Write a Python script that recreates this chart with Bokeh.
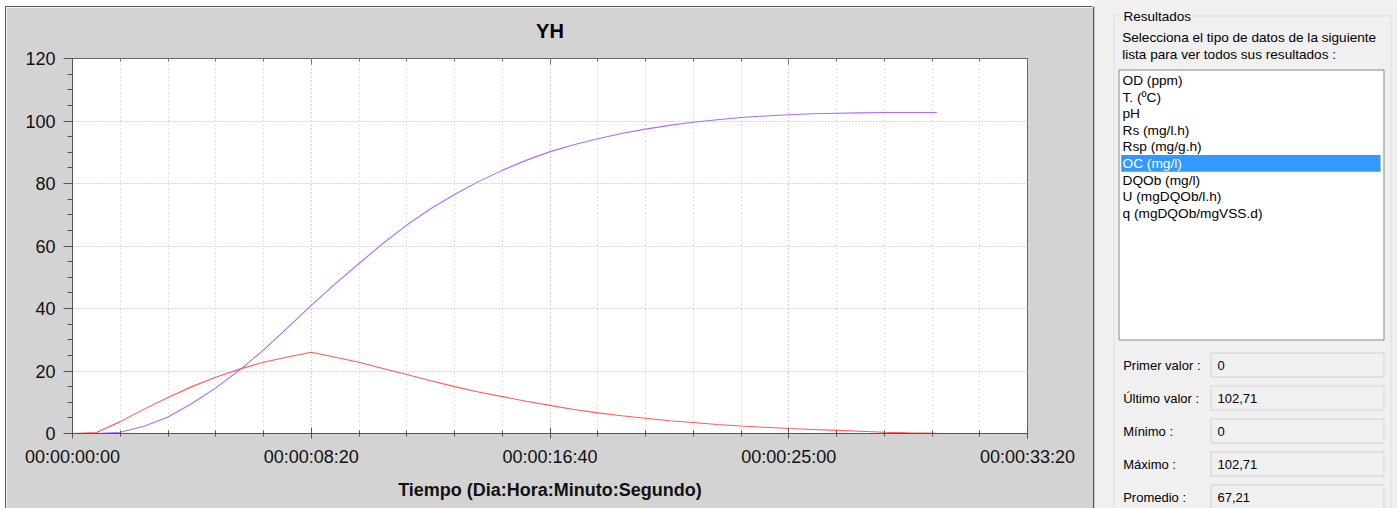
from bokeh.plotting import figure
from bokeh.models import Range1d, FixedTicker, LinearAxis, Spacer
from bokeh.layouts import row, column
from bokeh.core.properties import value
from bokeh.embed import file_html
from bokeh.resources import INLINE

# ---------------- data ----------------
time_s = [0, 50, 100, 150, 200, 250, 300, 350, 400, 450, 500, 550, 600, 650, 700,
          750, 800, 850, 900, 950, 1000, 1050, 1100, 1150, 1200, 1250, 1300, 1350,
          1400, 1450, 1500, 1550, 1600, 1650, 1700, 1750, 1810]
oc_mg_l = [0, 0.0, 0.4, 2.3, 5.3, 9.6, 14.6, 20.3, 26.7, 33.8, 41.0, 47.9, 54.4, 60.8,
           66.7, 71.9, 76.5, 80.6, 84.2, 87.4, 90.2, 92.4, 94.3, 96.0, 97.4, 98.6,
           99.6, 100.4, 101.1, 101.6, 102.0, 102.3, 102.5, 102.6, 102.7, 102.7, 102.71]
red_series = [0, 0.3, 3.8, 7.8, 11.5, 15.0, 18.0, 20.6, 22.8, 24.5, 26.0, 24.4, 22.8,
              20.8, 18.9, 16.9, 15.0, 13.3, 11.8, 10.3, 9.0, 7.7, 6.6, 5.7, 4.9, 4.1,
              3.5, 2.9, 2.4, 2.0, 1.6, 1.3, 1.0, 0.7, 0.4, 0.2, 0.1]

y_ticks = [0, 20, 40, 60, 80, 100, 120]
y_minor_ticks = [0, 5, 10, 15, 20, 25, 30, 35, 40, 45, 50, 55, 60, 65, 70, 75, 80, 85,
                 90, 95, 100, 105, 110, 115, 120]
x_ticks = [0, 500, 1000, 1500, 2000]
x_tick_labels = ["00:00:00:00", "00:00:08:20", "00:00:16:40", "00:00:25:00", "00:00:33:20"]
x_minor_ticks = [0, 100, 200, 300, 400, 500, 600, 700, 800, 900, 1000, 1100, 1200, 1300,
                 1400, 1500, 1600, 1700, 1800, 1900, 2000]

chart_title = "YH"
x_axis_label = "Tiempo (Dia:Hora:Minuto:Segundo)"

group_title = "Resultados"
description_lines = ["Selecciona el tipo de datos de la siguiente",
                     "lista para ver todos sus resultados :"]
list_items = ["OD (ppm)", "T. (ºC)", "pH", "Rs (mg/l.h)", "Rsp (mg/g.h)", "OC (mg/l)",
              "DQOb (mg/l)", "U (mgDQOb/l.h)", "q (mgDQOb/mgVSS.d)"]
selected_index = 5
stat_labels = ["Primer valor :", "Último valor :", "Mínimo :", "Máximo :", "Promedio :"]
stat_values = ["0", "102,71", "0", "102,71", "67,21"]

FONT = "Liberation Sans"
AX = "#555555"
EDGE = "#5a5a5a"

# ---------------- chart ----------------
CW, CH = 1086, 501
p = figure(width=CW, height=CH, x_range=Range1d(0, 2000), y_range=Range1d(0, 120),
           title=None, output_backend="svg", toolbar_location=None,
           min_border_left=66, min_border_right=65, min_border_top=51, min_border_bottom=75,
           background_fill_color="white", border_fill_color="#d3d3d3",
           outline_line_color="#666666", outline_line_width=1, frame_align=False)

xt = FixedTicker(ticks=x_ticks, minor_ticks=x_minor_ticks)
yt = FixedTicker(ticks=y_ticks, minor_ticks=y_minor_ticks)

xa = p.xaxis[0]
xa.ticker = xt
xa.major_label_overrides = {t: l for t, l in zip(x_ticks, x_tick_labels)}
xa.axis_line_color = AX
xa.major_tick_line_color = AX
xa.minor_tick_line_color = AX
xa.major_tick_in = 6
xa.major_tick_out = 5
xa.minor_tick_in = 3
xa.minor_tick_out = 3
xa.major_label_standoff = 8
xa.major_label_text_font = FONT
xa.major_label_text_font_size = "18px"
xa.major_label_text_color = "#111111"
xa.axis_label = x_axis_label
xa.axis_label_text_font = FONT
xa.axis_label_text_font_size = "18px"
xa.axis_label_text_font_style = "bold"
xa.axis_label_text_color = "#111111"
xa.axis_label_standoff = 10

ya = p.yaxis[0]
ya.ticker = yt
ya.axis_line_color = AX
ya.major_tick_line_color = AX
ya.minor_tick_line_color = AX
ya.major_tick_in = 0
ya.major_tick_out = 9
ya.minor_tick_in = 0
ya.minor_tick_out = 5
ya.major_label_standoff = 8
ya.major_label_text_font = FONT
ya.major_label_text_font_size = "18px"
ya.major_label_text_color = "#111111"

# top axis: inward ticks only, carries the chart title "YH" as its label
top_axis = LinearAxis(ticker=FixedTicker(ticks=x_ticks, minor_ticks=x_minor_ticks),
                      major_label_overrides={t: "" for t in x_ticks},
                      major_label_text_font_size="0px", major_label_standoff=0,
                      major_tick_in=6, major_tick_out=0, minor_tick_in=3, minor_tick_out=0,
                      axis_line_color="#666666", major_tick_line_color="#777777",
                      minor_tick_line_color="#777777",
                      axis_label=chart_title, axis_label_text_font=FONT,
                      axis_label_text_font_size="20px", axis_label_text_font_style="bold",
                      axis_label_text_color="#000000", axis_label_standoff=17)
p.add_layout(top_axis, "above")

p.xgrid.ticker = xt
p.xgrid.grid_line_color = "#c8c8c8"
p.xgrid.grid_line_dash = "1 3"
p.xgrid.minor_grid_line_color = "#c8c8c8"
p.xgrid.minor_grid_line_dash = "1 3"
p.ygrid.ticker = yt
p.ygrid.grid_line_color = "#b0b0b0"
p.ygrid.grid_line_dash = "1 2"

p.line(time_s, red_series, line_color="#ff5c5c", line_width=1.1)
p.line(time_s, oc_mg_l, line_color="#ad6bff", line_width=1.1)

# ---------------- right panel (Windows-form like) ----------------
PW, PH = 305, 508
q = figure(width=PW, height=PH, x_range=Range1d(0, PW), y_range=Range1d(PH, 0),
           output_backend="svg", toolbar_location=None, x_axis_type=None, y_axis_type=None,
           min_border=0, min_border_left=0, min_border_right=0, min_border_top=0,
           min_border_bottom=0, background_fill_color="#f0f0f0", border_fill_color="#f0f0f0",
           outline_line_color=None, frame_align=False)
q.grid.visible = False

# chart panel right border
q.quad(left=[0], right=[1.8], top=[6], bottom=[PH], fill_color=EDGE, line_color=None)
q.quad(left=[0], right=[1.8], top=[0], bottom=[6], fill_color="white", line_color=None)

# group box
q.quad(left=[21.5], right=[298.5], top=[15.5], bottom=[PH + 20], fill_color=None,
       line_color="#d5dfe5", line_width=1)
q.quad(left=[28], right=[99], top=[6], bottom=[24], fill_color="#f0f0f0", line_color=None)
q.text(x=[31], y=[15.5], text=[group_title], text_font=value(FONT), text_font_size="13.5px",
       text_baseline="middle", text_align="left", text_color="#000000")

q.text(x=[29.7, 29.7], y=[37, 53.5], text=description_lines, text_font=value(FONT),
       text_font_size="13.6px", text_baseline="middle", text_align="left", text_color="#000000")

# list box
q.quad(left=[26.5], right=[291.5], top=[69.5], bottom=[339.5], fill_color="white",
       line_color="#828790", line_width=1)
row_h = 16.6
sel_y = 80 + row_h * selected_index
q.quad(left=[28.7], right=[288], top=[sel_y - 8.5], bottom=[sel_y + 8.3],
       fill_color="#3399ff", line_color=None)
item_y = [80 + row_h * i for i in range(len(list_items))]
item_col = ["#ffffff" if i == selected_index else "#000000" for i in range(len(list_items))]
q.text(x=[30] * len(list_items), y=item_y, text=list_items, text_color=item_col,
       text_font=value(FONT), text_font_size="13.7px", text_baseline="middle",
       text_align="left")

# stats
stat_y = [365 + 33 * i for i in range(len(stat_labels))]
q.quad(left=[118.5] * len(stat_y), right=[291.5] * len(stat_y),
       top=[y - 12.5 for y in stat_y], bottom=[y + 11.5 for y in stat_y],
       fill_color="#f0f0f0", line_color="#d2d2d2", line_width=1)
q.text(x=[30.7] * len(stat_y), y=stat_y, text=stat_labels, text_font=value(FONT),
       text_font_size="13px", text_baseline="middle", text_align="left", text_color="#000000")
q.text(x=[125] * len(stat_y), y=stat_y, text=stat_values, text_font=value(FONT),
       text_font_size="13px", text_baseline="middle", text_align="left", text_color="#000000")

# chart block: white margin + dark outer edge lines + chart
left_strip = row(Spacer(width=5, height=CH),
                 Spacer(width=1, height=CH, styles={"background-color": EDGE}),
                 spacing=0)
chart_block = column(Spacer(width=CW + 6, height=6),
                     row(Spacer(width=5, height=1),
                         Spacer(width=CW + 1, height=1, styles={"background-color": EDGE}),
                         spacing=0),
                     row(left_strip, p, spacing=0), spacing=0)
layout = row(chart_block, q, spacing=0)
open("out.html", "w").write(file_html(layout, INLINE))
